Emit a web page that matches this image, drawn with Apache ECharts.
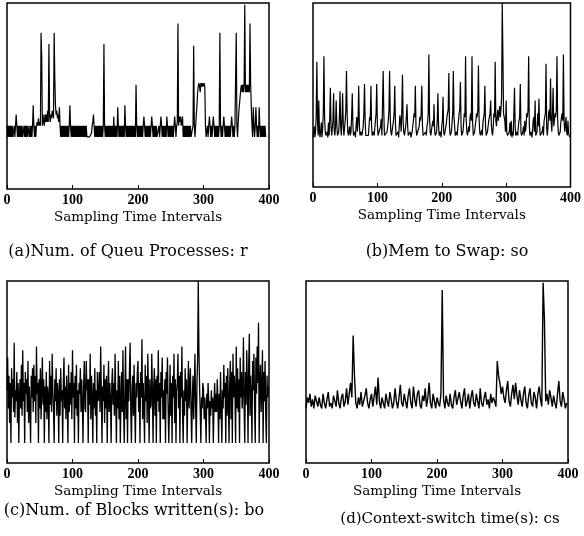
<!DOCTYPE html>
<html>
<head>
<meta charset="utf-8">
<script src="https://cdn.jsdelivr.net/npm/echarts@6/dist/echarts.min.js"></script>
<style>
  html, body { margin: 0; padding: 0; background: #fff; }
  #chart { width: 584px; height: 536px; }
</style>
</head>
<body>
<div id="chart"></div>
<script>
var xTicks = [0, 100, 200, 300, 400];

// (a) queued processes, r  (one value per interval)
var queuVals = [
  34,28,34,28,34,28,34,28,34,28,28,34,28,34,40,34,28,34,28,34,
  28,34,28,34,28,28,34,28,34,28,34,28,34,34,28,34,28,34,28,34,
  45,34,28,34,28,34,36,34,38,34,36,34,84,71,34,40,36,34,40,36,
  40,36,42,36,78,40,36,40,38,42,40,38,84,60,45,40,42,38,40,36,
  44,34,28,34,28,34,28,34,28,34,28,34,28,34,28,34,45,34,28,34,
  28,34,28,34,28,34,28,34,28,34,28,34,28,34,28,34,28,34,28,34,
  28,34,28,28,28,28,28,28,28,30,34,36,40,34,28,34,28,34,28,34,
  28,34,28,34,28,34,28,34,78,34,28,34,28,34,28,34,28,34,28,34,
  28,34,28,39,28,34,28,34,28,44,34,28,34,28,34,28,34,28,34,28,
  45,34,28,34,28,34,28,34,28,34,28,34,28,34,28,34,28,56,34,28,
  34,28,34,28,34,28,34,28,34,39,34,28,34,28,34,28,34,28,34,28,
  34,39,34,28,34,28,34,28,34,28,28,28,34,28,34,39,34,28,34,28,
  34,28,34,28,39,34,28,34,28,34,28,34,28,34,28,34,39,34,28,34,
  36,89,34,39,36,39,34,36,39,28,34,28,34,28,34,28,34,28,34,28,
  34,28,28,28,34,77,34,28,34,40,45,52,55,57,55,52,57,55,57,55,
  55,57,55,34,28,28,34,28,34,39,34,28,34,28,34,39,34,28,34,28,
  34,28,34,28,34,84,34,28,34,28,34,39,34,28,34,28,34,28,34,28,
  34,28,34,39,34,28,34,28,34,34,84,34,28,36,42,46,50,54,56,52,
  56,52,56,99,52,56,52,56,52,56,52,89,56,44,34,28,44,34,28,34,
  44,34,28,34,28,44,34,28,34,28,34,28,34,28,34,28
];

// (b) memory to swap, so  (one value per interval)
var swapVals = [
  27,28,33,27,30,40,68,36,28,47,30,27,28,35,27,32,40,71,38,30,
  28,27,30,27,35,28,38,54,33,28,27,36,51,30,28,33,47,34,28,27,
  30,38,52,33,28,36,51,34,28,27,36,42,63,40,30,28,27,33,28,30,
  38,51,33,28,27,30,27,34,38,30,36,55,34,28,27,30,28,27,33,40,
  56,36,28,27,29,27,28,33,38,36,55,33,28,27,30,28,27,36,40,56,
  34,28,27,29,27,33,37,28,45,63,40,28,27,28,27,30,33,36,42,63,
  38,30,28,27,28,36,40,55,35,28,27,28,30,27,33,39,36,30,42,61,
  36,30,28,27,33,38,45,33,28,27,28,30,27,28,30,33,36,40,38,55,
  32,28,27,28,27,33,38,36,40,55,34,28,27,28,27,30,28,33,35,40,
  72,38,30,28,27,28,36,33,45,30,28,27,30,36,51,34,28,27,30,27,
  33,36,49,30,28,27,28,34,38,40,42,62,33,28,27,30,35,40,63,38,
  33,28,27,30,28,33,36,40,42,57,33,28,27,30,35,40,38,71,36,30,
  28,27,33,30,38,40,36,71,35,28,27,30,33,36,40,38,42,66,37,30,
  28,27,31,28,35,36,40,55,33,28,27,30,33,36,38,40,47,34,30,28,
  33,40,38,68,36,33,38,42,36,40,44,38,42,49,100,71,40,38,36,30,
  47,30,28,27,28,30,35,28,36,27,30,28,40,54,33,28,27,30,28,33,
  36,38,56,30,28,27,30,33,28,36,30,33,40,38,42,71,34,28,27,30,
  27,30,36,38,30,47,28,27,30,40,33,48,33,28,27,28,30,33,28,36,
  38,40,67,32,28,33,40,42,36,59,36,30,40,54,33,36,40,38,42,71,
  37,30,28,27,30,35,38,40,36,72,36,30,33,38,30,28,36,29,30,27
];

// (c) blocks written, bo  (one value per interval)
var blocksVals = [
  40,58,30,48,22,44,11,52,36,46,28,66,25,40,34,50,22,44,11,38,
  46,30,54,26,62,34,44,11,50,38,46,28,56,22,42,30,11,48,36,52,
  28,54,34,48,22,64,38,44,11,46,30,52,24,40,58,32,46,11,42,28,
  50,24,42,36,11,56,32,48,28,60,40,30,11,46,34,52,26,44,38,11,
  46,26,52,34,40,11,44,58,30,42,24,48,36,11,54,28,44,32,50,24,
  62,36,44,11,48,30,54,26,40,11,44,38,52,28,46,34,11,42,56,30,
  28,56,40,46,11,46,32,60,24,48,36,11,44,30,52,26,40,11,50,34,
  36,50,28,64,40,11,42,34,54,22,46,30,48,11,38,56,28,44,34,11,
  44,52,32,44,26,60,36,11,40,30,56,24,48,11,34,50,28,62,30,11,
  38,64,24,46,11,46,34,52,66,28,11,40,48,26,54,32,11,44,36,50,
  56,28,44,11,50,36,68,24,44,30,11,54,34,48,22,60,38,11,46,30,
  32,60,40,11,42,52,26,46,11,48,34,62,28,44,11,50,36,58,24,40,
  24,46,11,50,38,58,30,11,30,54,26,44,11,48,36,60,22,46,11,40,
  44,60,30,48,11,50,36,64,28,11,40,26,52,34,46,11,38,56,30,44,
  52,28,11,36,48,24,42,60,30,11,44,56,100,62,42,28,11,36,30,44,
  40,24,36,28,11,38,30,44,34,11,34,26,40,30,36,11,32,44,28,38,
  28,46,34,11,38,24,50,30,11,40,30,54,36,44,11,48,26,52,34,11,
  44,56,24,50,11,60,36,48,40,11,64,30,52,28,46,11,58,36,50,30,
  40,69,30,11,50,32,62,44,11,54,71,26,48,36,11,56,40,60,30,11,
  58,38,64,44,77,11,46,54,28,40,62,11,50,34,56,26,11,48,36,42
];

// (d) context-switch time, cs  (one value every 2 intervals)
var csVals = [
  30,36,33,38,31,35,30,37,34,31,
  36,32,30,38,33,30,35,39,31,33,
  30,37,34,31,40,33,30,36,38,31,
  34,41,32,38,44,36,70,48,33,30,
  36,32,39,31,30,37,41,33,30,35,
  38,31,30,42,32,47,34,30,36,33,
  30,38,34,31,39,35,30,33,41,34,
  30,36,43,33,31,38,34,30,37,41,
  33,30,42,35,31,38,40,32,30,37,
  34,41,31,36,44,33,30,38,34,30,
  36,33,31,38,95,35,30,37,33,31,
  38,32,30,36,40,32,31,39,34,30,
  37,41,31,34,38,30,36,40,33,31,
  38,34,30,41,33,31,36,39,32,35,
  30,38,33,36,34,31,56,48,44,38,
  42,36,33,40,45,34,31,38,43,35,
  44,37,32,40,35,31,38,42,33,30,
  37,41,33,31,39,36,30,38,42,35,
  31,99,79,34,38,32,40,36,31,37,
  33,30,38,45,34,31,39,35,30,33
];

var captions = [
  '(a)Num. of Queu Processes: r',
  '(b)Mem to Swap: so',
  '(c)Num. of Blocks written(s): bo',
  '(d)Context-switch time(s): cs'
];
var captionSizes = [16, 16, 16, 15];
var panels = [queuVals, swapVals, blocksVals, csVals];
var steps = [1, 1, 1, 2];
var lineWidths = [1.2, 1.2, 1.3, 1.4];

var grids = [
  { left: 7,   top: 3,   width: 262, height: 186 },
  { left: 313, top: 3,   width: 262, height: 184 },
  { left: 7,   top: 281, width: 262, height: 182 },
  { left: 306, top: 281, width: 262, height: 182 }
];
var captionPos = [[128, 252], [447, 252], [134, 511], [450, 519]];

function toPoints(vals, step) {
  return vals.map(function (v, k) { return [k * step, v]; });
}

var chart = echarts.init(document.getElementById('chart'));

var option = {
  animation: false,
  backgroundColor: '#fff',
  grid: grids.map(function (g) {
    return Object.assign({ show: true, borderColor: '#000', borderWidth: 1.5 }, g);
  }),
  xAxis: grids.map(function (g, i) {
    return {
      type: 'value', gridIndex: i,
      min: xTicks[0], max: xTicks[xTicks.length - 1], interval: 100,
      name: 'Sampling Time Intervals',
      nameLocation: 'middle', nameGap: 21,
      nameTextStyle: { fontFamily: 'DejaVu Serif', fontSize: 13.5, color: '#000' },
      axisLine: { show: false },
      axisTick: { show: true, inside: true, length: 4, lineStyle: { color: '#000' } },
      axisLabel: { fontFamily: 'Liberation Serif', fontWeight: 'bold', fontSize: 14, color: '#000', margin: 4 },
      splitLine: { show: false }
    };
  }),
  yAxis: grids.map(function (g, i) {
    return {
      type: 'value', gridIndex: i, min: 0, max: 100,
      axisLine: { show: false }, axisTick: { show: false },
      axisLabel: { show: false }, splitLine: { show: false }
    };
  }),
  series: panels.map(function (vals, i) {
    return {
      type: 'line', xAxisIndex: i, yAxisIndex: i,
      data: toPoints(vals, steps[i]),
      showSymbol: false,
      lineStyle: { color: '#000', width: lineWidths[i] }
    };
  }),
  graphic: captions.map(function (t, i) {
    return {
      type: 'text', x: captionPos[i][0], y: captionPos[i][1],
      style: {
        text: t, fill: '#000',
        font: captionSizes[i] + "px 'DejaVu Serif'",
        textAlign: 'center', textVerticalAlign: 'middle'
      }
    };
  })
};

chart.setOption(option);
</script>
</body>
</html>
